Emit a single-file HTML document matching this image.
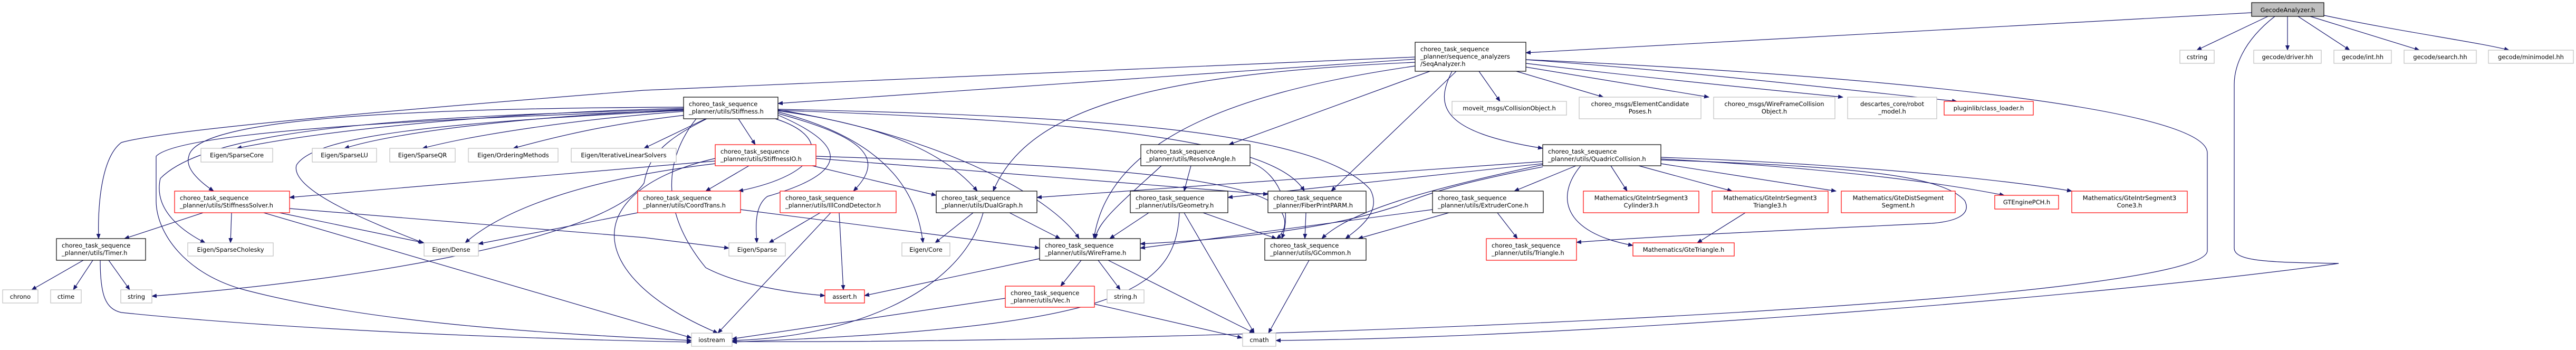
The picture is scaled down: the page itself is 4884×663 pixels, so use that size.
<!DOCTYPE html>
<html><head><meta charset="utf-8"><style>
html,body{margin:0;padding:0;background:#fff;}
svg{display:block;}
text{font-family:"DejaVu Sans","Liberation Sans",sans-serif;font-size:11.5px;fill:#000;}
.e{fill:none;stroke:#191970;stroke-width:1.2;marker-end:url(#a);}
.k{fill:#fff;stroke:#000;stroke-width:1.2;}
.g{fill:#fff;stroke:#bfbfbf;stroke-width:1.2;}
.r{fill:#fff;stroke:#ff0000;stroke-width:1.2;}
</style></head><body>
<svg width="4884" height="663" viewBox="0 0 4884 663" xmlns="http://www.w3.org/2000/svg">
<defs><marker id="a" markerWidth="10" markerHeight="8" refX="9" refY="4" orient="auto" markerUnits="userSpaceOnUse"><path d="M0,0 L10,4 L0,8 z" fill="#191970"/></marker></defs>
<g>
<!-- Gecode -->
<path class="e" d="M4300,31 L4165,95"/>
<path class="e" d="M4337,31 L4337,95"/>
<path class="e" d="M4357,31 L4455,95"/>
<path class="e" d="M4380,31 L4587,95"/>
<path class="e" d="M4406,29 C4550,60 4700,80 4757,95"/>
<path class="e" d="M4269,24 L2893,100"/>
<path class="e" d="M4313,31 C4250,80 4236,130 4236,160 L4236,470 C4236,495 4300,497 4434,499 C4000,560 3000,640 2419,645"/>
<!-- SeqAnalyzer -->
<path class="e" d="M2893,113 C3500,140 4185,200 4185,290 L4185,475 C4185,520 3800,555 3663,566 C3000,620 2000,650 1388,647"/>
<path class="e" d="M2804,135 L2844,192"/>
<path class="e" d="M2875,135 L3040,184"/>
<path class="e" d="M2893,127 L3240,184"/>
<path class="e" d="M2893,120 C3100,145 3350,170 3494,184"/>
<path class="e" d="M2893,113 C3200,135 3500,170 3710,192"/>
<path class="e" d="M2683,112 L1475,196"/>
<path class="e" d="M2683,108 L1221,171 C600,220 300,250 230,270 C190,300 185,400 187,452"/>
<path class="e" d="M2711,135 L2330,274"/>
<path class="e" d="M2683,118 C2200,140 1950,200 1883,362"/>
<path class="e" d="M2683,125 C2300,180 2100,280 2074,452"/>
<path class="e" d="M2761,135 L2524,362"/>
<path class="e" d="M2753,135 C2720,200 2730,250 2925,281"/>
<!-- Stiffness -->
<path class="e" d="M1296,205 C900,215 600,250 449,281"/>
<path class="e" d="M1296,208 C1000,220 750,250 653,281"/>
<path class="e" d="M1296,211 C1100,225 900,255 801,281"/>
<path class="e" d="M1300,218 C1150,235 1050,260 973,281"/>
<path class="e" d="M1338,225 L1221,281"/>
<path class="e" d="M1296,203 C700,205 370,230 358,296 C350,320 380,345 405,362"/>
<path class="e" d="M1400,225 L1432,274"/>
<path class="e" d="M1470,225 C1580,260 1560,330 1400,362"/>
<path class="e" d="M1475,215 C1640,260 1680,300 1618,362"/>
<path class="e" d="M1475,218 C1620,280 1600,330 1455,372 C1430,390 1433,430 1435,460"/>
<path class="e" d="M1475,212 C1700,270 1740,380 1750,460"/>
<path class="e" d="M1475,210 C1700,240 1800,300 1853,362"/>
<path class="e" d="M1475,208 C1800,260 2000,380 2046,452"/>
<path class="e" d="M1475,207 C2100,220 2500,250 2598,359 C2620,400 2580,430 2551,452"/>
<path class="e" d="M1475,209 C2100,230 2420,270 2473,362"/>
<path class="e" d="M1296,209 C900,230 600,250 562,313 C550,360 700,420 802,460"/>
<path class="e" d="M1296,207 C800,220 400,240 304,338 C290,400 350,440 389,460"/>
<path class="e" d="M1296,209 C800,225 340,250 296,296 L296,380 C296,440 350,520 467,550 C700,610 1000,630 1311,645"/>
<path class="e" d="M1340,225 C1250,270 1230,300 1221,347 C1150,450 700,530 288,561"/>
<path class="e" d="M1320,225 C1260,300 1250,400 1338,507 C1400,540 1500,555 1564,560"/>
<!-- StiffnessIO -->
<path class="e" d="M1356,305 L549,374"/>
<path class="e" d="M1420,314 L1338,362"/>
<path class="e" d="M1540,314 L1775,370"/>
<path class="e" d="M1356,310 C1100,340 950,400 882,460"/>
<path class="e" d="M1547,300 L2404,368"/>
<path class="e" d="M1547,296 C2000,310 2350,330 2420,390 C2450,420 2430,445 2420,452"/>
<path class="e" d="M1356,300 C1100,360 1100,520 1361,631"/>
<!-- StiffnessSolver -->
<path class="e" d="M385,403 L236,452"/>
<path class="e" d="M439,403 L437,460"/>
<path class="e" d="M530,403 L804,460"/>
<path class="e" d="M500,403 L1311,640"/>
<path class="e" d="M549,395 L1221,450 L1382,470"/>
<!-- Timer -->
<path class="e" d="M158,493 L60,549"/>
<path class="e" d="M176,493 L139,549"/>
<path class="e" d="M206,493 L246,549"/>
<path class="e" d="M190,493 C190,560 200,585 230,592 C500,620 900,640 1311,648"/>
<!-- CoordTrans -->
<path class="e" d="M1209,403 L907,462"/>
<path class="e" d="M1404,397 L1971,470"/>
<!-- IllCond -->
<path class="e" d="M1555,403 L1458,460"/>
<path class="e" d="M1591,403 L1599,549"/>
<path class="e" d="M1575,403 L1361,631"/>
<!-- DualGraph -->
<path class="e" d="M1845,403 L1773,460"/>
<path class="e" d="M1914,403 L2010,452"/>
<path class="e" d="M1864,403 C1820,560 1600,640 1388,645"/>
<!-- WireFrame -->
<path class="e" d="M1971,490 L1639,560"/>
<path class="e" d="M2050,493 L2011,542"/>
<path class="e" d="M2082,493 L2124,549"/>
<path class="e" d="M2101,493 L2378,631"/>
<!-- Vec -->
<path class="e" d="M1906,565 L1388,642"/>
<path class="e" d="M2075,576 L2355,640"/>
<!-- Geometry -->
<path class="e" d="M2178,403 L2104,452"/>
<path class="e" d="M2245,403 L2378,631"/>
<path class="e" d="M2236,403 C2230,560 2100,620 1388,648"/>
<path class="e" d="M2281,403 L2420,452"/>
<!-- ResolveAngle -->
<path class="e" d="M2258,314 L2245,362"/>
<path class="e" d="M2202,314 C2130,380 2080,420 2077,452"/>
<path class="e" d="M2370,307 C2430,330 2450,400 2430,452"/>
<!-- FiberPrint -->
<path class="e" d="M2476,403 L2474,452"/>
<!-- Quadric -->
<path class="e" d="M2988,314 L2871,362"/>
<path class="e" d="M3054,314 L3085,362"/>
<path class="e" d="M3107,314 L3284,362"/>
<path class="e" d="M3149,310 L3481,362"/>
<path class="e" d="M3149,301 C3500,320 3700,350 3800,370"/>
<path class="e" d="M3149,298 C3500,310 3800,340 3928,362"/>
<path class="e" d="M2997,314 C2950,370 2960,440 3096,465"/>
<path class="e" d="M2925,306 L1966,374"/>
<path class="e" d="M2925,310 L2328,374"/>
<path class="e" d="M2925,316 C2800,340 2720,360 2650,390 C2500,440 2300,455 2162,462"/>
<path class="e" d="M2925,312 C2700,360 2560,400 2506,452"/>
<path class="e" d="M3149,303 C3500,315 3680,330 3725,380 C3740,410 3700,420 3663,423 C3300,440 3105,450 2989,459"/>
<!-- Extruder -->
<path class="e" d="M2716,397 L2162,470"/>
<path class="e" d="M2747,403 L2575,452"/>
<path class="e" d="M2839,403 L2877,452"/>
<!-- Tri3 -->
<path class="e" d="M3309,403 L3218,460"/>
<!-- GCommon -->
<path class="e" d="M2482,493 L2405,631"/>
</g>
<g>
<rect x="4269" y="5" width="137" height="26" fill="#bfbfbf" stroke="#000" stroke-width="1.2"/><text x="4337.5" y="23" text-anchor="middle">GecodeAnalyzer.h</text>
<rect class="g" x="4133" y="95" width="65" height="25"/><text x="4165.5" y="112" text-anchor="middle">cstring</text>
<rect class="g" x="4273" y="95" width="128" height="25"/><text x="4337" y="112" text-anchor="middle">gecode/driver.hh</text>
<rect class="g" x="4425" y="95" width="109" height="25"/><text x="4479.5" y="112" text-anchor="middle">gecode/int.hh</text>
<rect class="g" x="4558" y="95" width="137" height="25"/><text x="4626.5" y="112" text-anchor="middle">gecode/search.hh</text>
<rect class="g" x="4718" y="95" width="161" height="25"/><text x="4798.5" y="112" text-anchor="middle">gecode/minimodel.hh</text>
<rect class="k" x="2683" y="80" width="210" height="55"/><text x="2693" y="97">choreo_task_sequence</text><text x="2693" y="111">_planner/sequence_analyzers</text><text x="2693" y="125">/SeqAnalyzer.h</text>
<rect class="g" x="2753" y="192" width="217" height="26"/><text x="2861.5" y="209" text-anchor="middle">moveit_msgs/CollisionObject.h</text>
<rect class="g" x="2994" y="184" width="231" height="41"/><text x="3109.5" y="201" text-anchor="middle">choreo_msgs/ElementCandidate</text><text x="3109.5" y="215" text-anchor="middle">Poses.h</text>
<rect class="g" x="3249" y="184" width="230" height="41"/><text x="3364" y="201" text-anchor="middle">choreo_msgs/WireFrameCollision</text><text x="3364" y="215" text-anchor="middle">Object.h</text>
<rect class="g" x="3503" y="184" width="169" height="41"/><text x="3587.5" y="201" text-anchor="middle">descartes_core/robot</text><text x="3587.5" y="215" text-anchor="middle">_model.h</text>
<rect class="r" x="3686" y="192" width="169" height="26"/><text x="3770.5" y="209" text-anchor="middle">pluginlib/class_loader.h</text>
<rect class="k" x="1296" y="184" width="179" height="41"/><text x="1306" y="201">choreo_task_sequence</text><text x="1306" y="215">_planner/utils/Stiffness.h</text>
<rect class="g" x="381" y="281" width="136" height="26"/><text x="449" y="298" text-anchor="middle">Eigen/SparseCore</text>
<rect class="g" x="592" y="281" width="122" height="26"/><text x="653" y="298" text-anchor="middle">Eigen/SparseLU</text>
<rect class="g" x="739" y="281" width="124" height="26"/><text x="801" y="298" text-anchor="middle">Eigen/SparseQR</text>
<rect class="g" x="888" y="281" width="170" height="26"/><text x="973" y="298" text-anchor="middle">Eigen/OrderingMethods</text>
<rect class="g" x="1083" y="281" width="199" height="26"/><text x="1182.5" y="298" text-anchor="middle">Eigen/IterativeLinearSolvers</text>
<rect class="r" x="1356" y="274" width="191" height="40"/><text x="1366" y="291">choreo_task_sequence</text><text x="1366" y="305">_planner/utils/StiffnessIO.h</text>
<rect class="k" x="2163" y="274" width="207" height="40"/><text x="2173" y="291">choreo_task_sequence</text><text x="2173" y="305">_planner/utils/ResolveAngle.h</text>
<rect class="k" x="2925" y="274" width="224" height="40"/><text x="2935" y="291">choreo_task_sequence</text><text x="2935" y="305">_planner/utils/QuadricCollision.h</text>
<rect class="r" x="331" y="362" width="218" height="41"/><text x="341" y="379">choreo_task_sequence</text><text x="341" y="393">_planner/utils/StiffnessSolver.h</text>
<rect class="r" x="1209" y="362" width="195" height="41"/><text x="1219" y="379">choreo_task_sequence</text><text x="1219" y="393">_planner/utils/CoordTrans.h</text>
<rect class="r" x="1479" y="362" width="220" height="41"/><text x="1489" y="379">choreo_task_sequence</text><text x="1489" y="393">_planner/utils/IllCondDetector.h</text>
<rect class="k" x="1775" y="362" width="191" height="41"/><text x="1785" y="379">choreo_task_sequence</text><text x="1785" y="393">_planner/utils/DualGraph.h</text>
<rect class="k" x="2143" y="362" width="185" height="41"/><text x="2153" y="379">choreo_task_sequence</text><text x="2153" y="393">_planner/utils/Geometry.h</text>
<rect class="k" x="2404" y="362" width="186" height="41"/><text x="2414" y="379">choreo_task_sequence</text><text x="2414" y="393">_planner/FiberPrintPARM.h</text>
<rect class="k" x="2716" y="362" width="210" height="41"/><text x="2726" y="379">choreo_task_sequence</text><text x="2726" y="393">_planner/utils/ExtruderCone.h</text>
<rect class="r" x="3002" y="362" width="219" height="41"/><text x="3111.5" y="379" text-anchor="middle">Mathematics/GteIntrSegment3</text><text x="3111.5" y="393" text-anchor="middle">Cylinder3.h</text>
<rect class="r" x="3246" y="362" width="220" height="41"/><text x="3356" y="379" text-anchor="middle">Mathematics/GteIntrSegment3</text><text x="3356" y="393" text-anchor="middle">Triangle3.h</text>
<rect class="r" x="3491" y="362" width="216" height="41"/><text x="3599" y="379" text-anchor="middle">Mathematics/GteDistSegment</text><text x="3599" y="393" text-anchor="middle">Segment.h</text>
<rect class="r" x="3782" y="370" width="121" height="26"/><text x="3842.5" y="387" text-anchor="middle">GTEnginePCH.h</text>
<rect class="r" x="3928" y="362" width="219" height="41"/><text x="4037.5" y="379" text-anchor="middle">Mathematics/GteIntrSegment3</text><text x="4037.5" y="393" text-anchor="middle">Cone3.h</text>
<rect class="k" x="107" y="452" width="169" height="41"/><text x="117" y="469">choreo_task_sequence</text><text x="117" y="483">_planner/utils/Timer.h</text>
<rect class="g" x="356" y="460" width="162" height="25"/><text x="437" y="477" text-anchor="middle">Eigen/SparseCholesky</text>
<rect class="g" x="804" y="460" width="103" height="25"/><text x="855.5" y="477" text-anchor="middle">Eigen/Dense</text>
<rect class="g" x="1382" y="460" width="107" height="25"/><text x="1435.5" y="477" text-anchor="middle">Eigen/Sparse</text>
<rect class="g" x="1710" y="460" width="91" height="25"/><text x="1755.5" y="477" text-anchor="middle">Eigen/Core</text>
<rect class="k" x="1971" y="452" width="191" height="41"/><text x="1981" y="469">choreo_task_sequence</text><text x="1981" y="483">_planner/utils/WireFrame.h</text>
<rect class="k" x="2398" y="452" width="192" height="41"/><text x="2408" y="469">choreo_task_sequence</text><text x="2408" y="483">_planner/utils/GCommon.h</text>
<rect class="r" x="2818" y="452" width="171" height="41"/><text x="2828" y="469">choreo_task_sequence</text><text x="2828" y="483">_planner/utils/Triangle.h</text>
<rect class="r" x="3096" y="460" width="192" height="25"/><text x="3192" y="477" text-anchor="middle">Mathematics/GteTriangle.h</text>
<rect class="g" x="5" y="549" width="67" height="25"/><text x="38.5" y="566" text-anchor="middle">chrono</text>
<rect class="g" x="96" y="549" width="58" height="25"/><text x="125" y="566" text-anchor="middle">ctime</text>
<rect class="g" x="229" y="549" width="59" height="25"/><text x="258.5" y="566" text-anchor="middle">string</text>
<rect class="r" x="1564" y="549" width="75" height="25"/><text x="1601.5" y="566" text-anchor="middle">assert.h</text>
<rect class="r" x="1906" y="542" width="169" height="40"/><text x="1916" y="559">choreo_task_sequence</text><text x="1916" y="573">_planner/utils/Vec.h</text>
<rect class="g" x="2099" y="549" width="70" height="25"/><text x="2134" y="566" text-anchor="middle">string.h</text>
<rect class="g" x="1311" y="631" width="77" height="25"/><text x="1349.5" y="648" text-anchor="middle">iostream</text>
<rect class="g" x="2356" y="631" width="63" height="25"/><text x="2387.5" y="648" text-anchor="middle">cmath</text>
</g>
</svg>
</body></html>
